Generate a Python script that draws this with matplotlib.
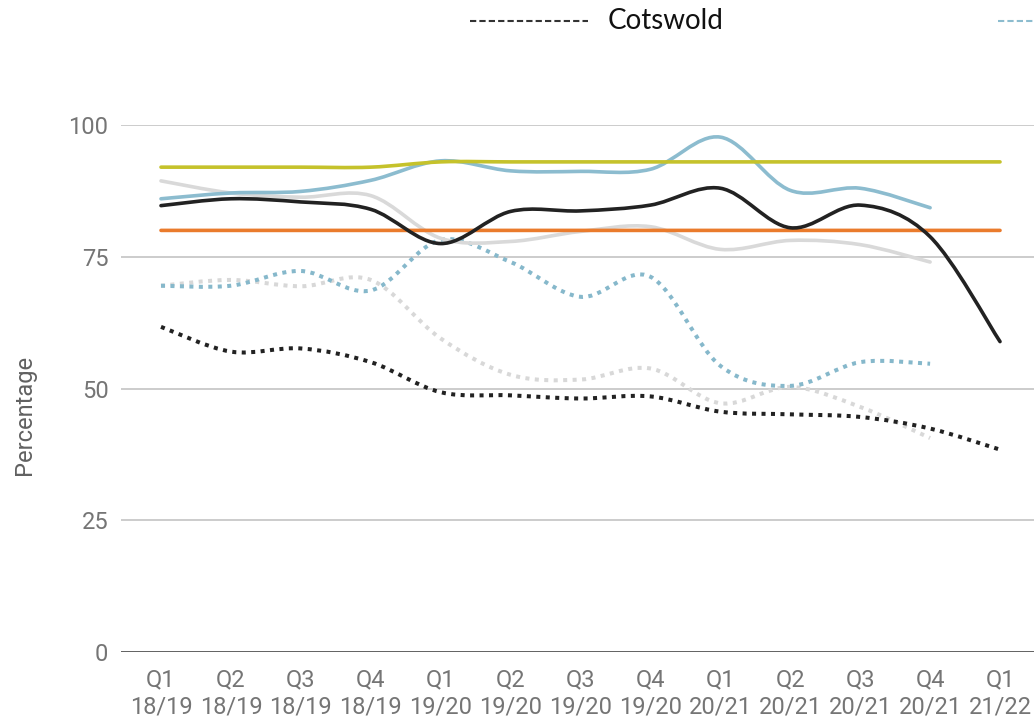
import numpy as np
import matplotlib
matplotlib.use("Agg")
import matplotlib.pyplot as plt
from matplotlib.path import Path
from matplotlib.patches import PathPatch
from matplotlib.lines import Line2D

plt.rcParams['font.family'] = ['Roboto', 'DejaVu Sans']

# Quarter labels along the x axis
quarters = ["Q1\n18/19", "Q2\n18/19", "Q3\n18/19", "Q4\n18/19",
            "Q1\n19/20", "Q2\n19/20", "Q3\n19/20", "Q4\n19/20",
            "Q1\n20/21", "Q2\n20/21", "Q3\n20/21", "Q4\n20/21",
            "Q1\n21/22"]

# Solid series
target_green = [92, 92, 92, 92, 93, 93, 93, 93, 93, 93, 93, 93, 93]
target_orange = [80, 80, 80, 80, 80, 80, 80, 80, 80, 80, 80, 80, 80]
blue_solid = [86, 87.1, 87.4, 89.5, 93.2, 91.3, 91.2, 91.6, 97.7, 87.6, 88.0, 84.3]
grey_solid = [89.4, 87.1, 86.3, 86.6, 78.5, 77.9, 79.8, 80.7, 76.4, 78.1, 77.3, 74.0]
black_solid = [84.7, 86.0, 85.4, 84.0, 77.5, 83.6, 83.7, 84.8, 88.0, 80.5, 84.8, 78.8, 58.9]

# Dotted series
blue_dotted = [69.5, 69.5, 72.3, 68.6, 78.2, 74.0, 67.4, 71.2, 54.3, 50.5, 55.0, 54.7]
grey_dotted = [69.5, 70.6, 69.4, 70.6, 59.5, 52.6, 51.7, 53.8, 47.2, 50.3, 46.5, 40.6]
black_dotted = [61.7, 57.0, 57.6, 55.0, 49.3, 48.7, 48.1, 48.5, 45.6, 45.1, 44.6, 42.4, 38.4]


def smooth_path(values, t=1 / 6):
    # cubic bezier through the points (catmull-rom style control points)
    pts = np.column_stack([np.arange(len(values)), values]).astype(float)
    verts = [pts[0]]
    codes = [Path.MOVETO]
    n = len(pts)
    for i in range(n - 1):
        p0 = pts[i - 1] if i > 0 else pts[i]
        p1 = pts[i]
        p2 = pts[i + 1]
        p3 = pts[i + 2] if i + 2 < n else pts[i + 1]
        c1 = p1 + (p2 - p0) * t
        c2 = p2 - (p3 - p1) * t
        verts += [c1, c2, p2]
        codes += [Path.CURVE4] * 3
    return Path(verts, codes)


def add_series(ax, values, color, dotted=False, z=3):
    if dotted:
        patch = PathPatch(smooth_path(values), fill=False, edgecolor=color,
                          lw=2.9, linestyle=(0, (1, 1.35)), zorder=z)
        patch.set_capstyle('butt')
    else:
        patch = PathPatch(smooth_path(values), fill=False, edgecolor=color,
                          lw=2.6, zorder=z)
        patch.set_capstyle('round')
    patch.set_clip_on(False)
    ax.add_patch(patch)


W, H = 1034, 721
fig = plt.figure(figsize=(W / 100, H / 100), dpi=100)
ax = fig.add_axes([121 / W, (H - 652) / H, (W - 121) / W, (652 - 125) / H])

ax.set_xlim(-0.572, 12.486)
ax.set_ylim(0, 100)

for v in [25, 50, 75, 100]:
    ax.axhline(v, color="#cccccc", lw=1.4, zorder=1)
ax.axhline(0, color="#333333", lw=1.8, zorder=6)

add_series(ax, grey_dotted, "#d8d8d8", dotted=True, z=2)
add_series(ax, blue_dotted, "#86b8cb", dotted=True, z=2.1)
add_series(ax, black_dotted, "#222222", dotted=True, z=2.2)
add_series(ax, grey_solid, "#d9d9d9", z=3)
add_series(ax, blue_solid, "#8cbccf", z=3.1)
add_series(ax, target_orange, "#ea7b2c", z=3.2)
add_series(ax, target_green, "#c5c22b", z=3.3)
add_series(ax, black_solid, "#222222", z=3.4)

ax.set_xticks(range(len(quarters)))
ax.set_xticklabels(quarters, linespacing=1.2)
ax.set_yticks([0, 25, 50, 75, 100])
ax.tick_params(axis='both', length=0, labelsize=17, labelcolor="#757575")
ax.tick_params(axis='x', pad=12)
ax.tick_params(axis='y', pad=9)
for s in ax.spines.values():
    s.set_visible(False)

fig.text(25 / W, 1 - 415 / H, "Percentage", rotation=90, ha="center",
         va="center", fontsize=17, color="#616161")

# legend at the top (second entry runs off the right edge)
fig.add_artist(Line2D([470 / W, 588 / W], [1 - 21 / H] * 2, transform=fig.transFigure,
                      color="#333333", lw=1.5, linestyle=(0, (3, 1.5))))
fig.text(608 / W, 1 - 21 / H, "Cotswold", ha="left", va="center", fontsize=20,
         color="#111111", family=["Lato", "DejaVu Sans"])
fig.add_artist(Line2D([998 / W, 1.05], [1 - 21 / H] * 2, transform=fig.transFigure,
                      color="#8cbccf", lw=1.5, linestyle=(0, (3, 1.5))))

fig.savefig("out.png", dpi=100)
